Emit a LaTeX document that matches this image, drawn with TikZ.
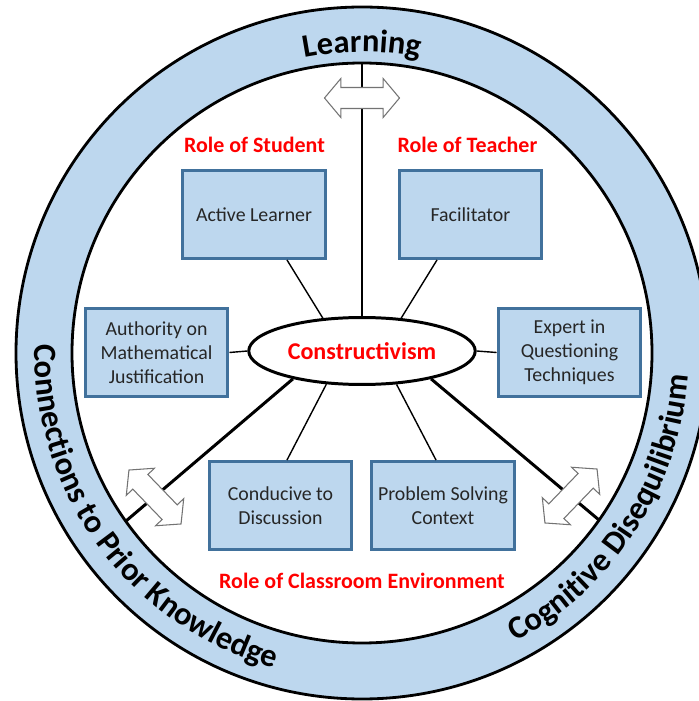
\documentclass[tikz,border=0pt]{standalone}
\usepackage{fontspec}
\setmainfont{Carlito}
\usepackage{tikz}
\usetikzlibrary{shapes.geometric,shapes.arrows,decorations.text}
\definecolor{ringblue}{RGB}{189,215,238}
\definecolor{boxedge}{RGB}{65,113,156}
\definecolor{boxtext}{RGB}{38,38,38}
\newcommand{\ringfont}{\fontsize{18.5}{22}\selectfont\bfseries}
\tikzset{
rolebox/.style={rectangle, draw=boxedge, fill=ringblue, line width=1.7pt, minimum width=2.86cm, minimum height=1.76cm, align=center, text=boxtext, font=\fontsize{11.3}{13.6}\selectfont},
rolelabel/.style={text=red, font=\fontsize{12.5}{15}\selectfont\bfseries},
ringline/.style={line width=1.6pt},
thinline/.style={line width=0.8pt},
thickline/.style={line width=1.7pt},
twoway/.style={double arrow, draw=black!55, fill=white, line width=0.6pt, minimum height=1.5cm, minimum width=0.76cm, double arrow head extend=0.18cm, double arrow tip angle=100, inner sep=0.2cm}
}

\begin{document}
\begin{tikzpicture}[x=0.02cm, y=0.02cm]
\clip (0,0) rectangle (699,701);

% ring
\coordinate (C) at (362,348);
\fill[ringblue] (C) circle[radius=346];
\draw[ringline, fill=white] (C) circle[radius=290];
\draw[ringline] (C) circle[radius=346];

\path[decorate, decoration={text along path, text align=center, text={|\ringfont|Learning}}]
  ([shift={(135:301)}]C) arc[start angle=135, end angle=45, radius=301];
\path[decorate, decoration={text along path, text align=center, text={|\ringfont|Connections to Prior Knowledge}}]
  ([shift={(156.5:327)}]C) arc[start angle=156.5, end angle=276.5, radius=327];
\path[decorate, decoration={text along path, text align=center, text={|\ringfont|Cognitive Disequilibrium}}]
  ([shift={(277:327)}]C) arc[start angle=277, end angle=377, radius=327];

\coordinate (tp) at (362,638);
\coordinate (ll) at (126,180);
\coordinate (lr) at (599,181);

% centre and roles
\node[ellipse, draw, line width=1.7pt, fill=white, minimum width=4.42cm, minimum height=1.34cm, text=red, font=\fontsize{13.7}{16}\selectfont\bfseries] (cons) at (362,350) {Constructivism};

\node[rolebox] (al)   at (254,486.5)   {Active Learner};
\node[rolebox] (fac)  at (470.5,486.5) {Facilitator};
\node[rolebox] (auth) at (156.5,348.5) {Authority on\\Mathematical\\Justification};
\node[rolebox] (exp)  at (569.5,348.5) {Expert in\\Questioning\\Techniques};
\node[rolebox] (cond) at (280.5,195.5) {Conducive to\\Discussion};
\node[rolebox] (prob) at (443,195.5)   {Problem Solving\\Context};

\draw[thickline] (cons.north) -- (tp);
\draw[thickline] (cons.202) -- (ll);
\draw[thickline] (cons.-22) -- (lr);

\draw[thinline] ([xshift=0.66cm]al.south) -- (cons.140);
\draw[thinline] ([xshift=-0.67cm]fac.south) -- (cons.40);
\draw[thinline] (auth.east) -- (cons.west);
\draw[thinline] (exp.west) -- (cons.east);
\draw[thinline] ([xshift=0.13cm]cond.north) -- (cons.223);
\draw[thinline] ([xshift=-0.14cm]prob.north) -- (cons.-44);

\node[twoway] (atop)   at (362,603) {};
\node[twoway, rotate=-46] (aleft)  at (155,204) {};
\node[twoway, rotate=46]  (aright) at (571,205) {};

\node[rolelabel] (rs) at (254.5,556) {Role of Student};
\node[rolelabel] (rt) at (467.5,556) {Role of Teacher};
\node[rolelabel] (rc) at (362,120)   {Role of Classroom Environment};

\end{tikzpicture}
\end{document}
